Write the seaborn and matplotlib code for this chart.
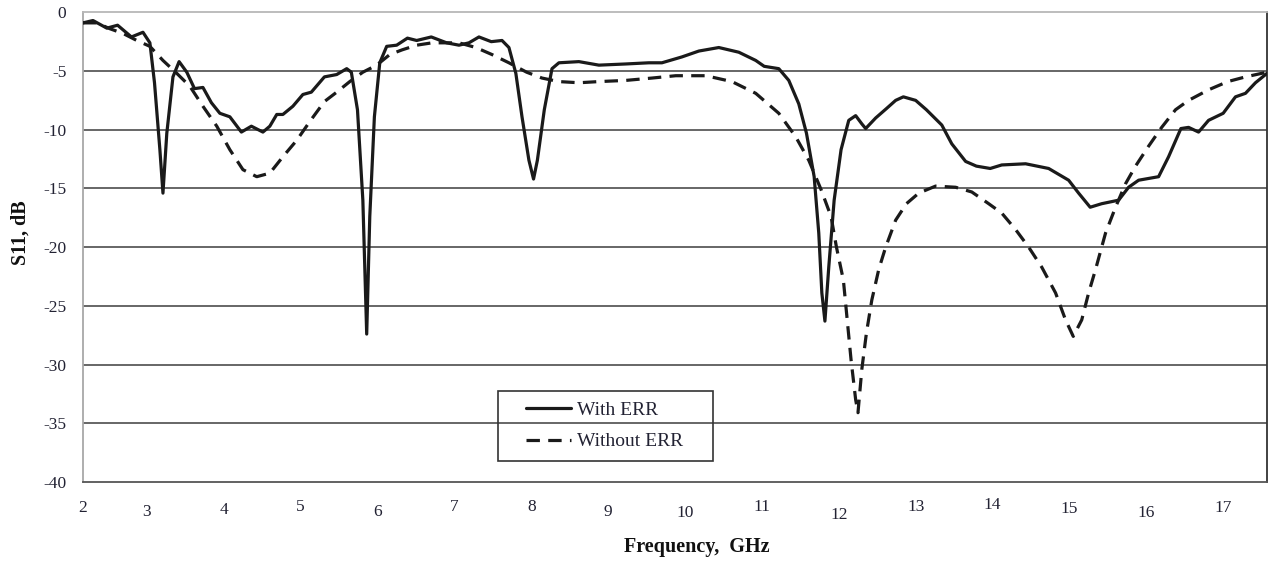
import numpy as np
import pandas as pd
import matplotlib
matplotlib.use("Agg")
import matplotlib.pyplot as plt
import matplotlib.transforms as mtransforms
from matplotlib.lines import Line2D
from matplotlib.legend_handler import HandlerLine2D
import seaborn as sns

# ---- data ----
freq_with = [2.17, 2.30, 2.48, 2.62, 2.80, 2.95, 3.04, 3.10, 3.17, 3.21, 3.26, 3.34,
             3.42, 3.52, 3.62, 3.73, 3.84, 3.95, 4.08, 4.23, 4.36, 4.51, 4.60, 4.69,
             4.77, 4.90, 5.03, 5.14, 5.31, 5.47, 5.60, 5.66, 5.74, 5.81, 5.86, 5.90,
             5.96, 6.03, 6.12, 6.25, 6.39, 6.51, 6.70, 6.90, 7.06, 7.19, 7.32, 7.48,
             7.62, 7.71, 7.80, 7.88, 7.97, 8.03, 8.08, 8.17, 8.27, 8.36, 8.62, 8.88,
             9.23, 9.53, 9.70, 9.96, 10.18, 10.44, 10.70, 10.92, 11.03, 11.22, 11.35,
             11.48, 11.58, 11.68, 11.74, 11.78, 11.82, 11.87, 11.94, 12.03, 12.13,
             12.22, 12.30, 12.35, 12.48, 12.62, 12.74, 12.84, 13.00, 13.14, 13.34,
             13.47, 13.65, 13.79, 13.97, 14.12, 14.43, 14.73, 14.99, 15.12, 15.27,
             15.42, 15.64, 15.77, 15.90, 16.16, 16.29, 16.45, 16.55, 16.68, 16.81,
             17.00, 17.16, 17.29, 17.42, 17.57]
s11_with = [-0.9, -0.7, -1.35, -1.1, -2.1, -1.7, -2.6, -6.0, -11.7, -15.4, -10.3, -5.5,
            -4.2, -5.1, -6.5, -6.4, -7.7, -8.6, -8.9, -10.2, -9.7, -10.2, -9.7, -8.7,
            -8.7, -8.0, -7.0, -6.8, -5.5, -5.3, -4.8, -5.1, -8.3, -16.0, -27.4, -17.4,
            -8.9, -4.3, -2.9, -2.8, -2.2, -2.4, -2.1, -2.6, -2.8, -2.6, -2.1, -2.5,
            -2.4, -3.0, -5.2, -8.9, -12.6, -14.2, -12.6, -8.3, -4.8, -4.3, -4.2, -4.5,
            -4.4, -4.3, -4.3, -3.8, -3.3, -3.0, -3.4, -4.1, -4.6, -4.8, -5.8,
            -7.8, -10.3, -14.0, -18.8, -23.9, -26.3, -21.7, -16.0, -11.7, -9.2,
            -8.8, -9.5, -9.9, -9.0, -8.2, -7.5, -7.2, -7.5, -8.3, -9.6,
            -11.2, -12.7, -13.1, -13.3, -13.0, -12.9, -13.3, -14.3, -15.4, -16.6,
            -16.3, -16.0, -14.9, -14.3, -14.0, -12.3, -9.9, -9.8, -10.2, -9.2,
            -8.6, -7.2, -6.9, -6.0, -5.2]

freq_without = [2.17, 2.35, 2.52, 2.69, 2.87, 3.04, 3.21, 3.39, 3.56, 3.73, 3.91, 4.08,
                4.25, 4.43, 4.60, 4.77, 4.95, 5.12, 5.31, 5.47, 5.64, 5.81, 5.99, 6.16,
                6.32, 6.51, 6.71, 7.06, 7.28, 7.49, 7.71, 7.94, 8.14, 8.36, 8.62, 8.88,
                9.23, 9.57, 9.88, 10.27, 10.61, 10.92, 11.22, 11.44, 11.61, 11.77, 11.90,
                11.97, 12.06, 12.16, 12.22, 12.25, 12.30, 12.36, 12.43, 12.52, 12.61,
                12.74, 12.88, 13.04, 13.26, 13.52, 13.73, 13.95, 14.12, 14.30, 14.47,
                14.64, 14.82, 14.95, 15.05, 15.16, 15.25, 15.34, 15.47, 15.60, 15.73,
                15.86, 16.03, 16.20, 16.38, 16.55, 16.81, 17.06, 17.29, 17.57]
s11_without = [-0.9, -0.9, -1.4, -1.8, -2.4, -2.9, -4.1, -5.2, -6.3, -8.0, -9.7, -11.7,
               -13.4, -14.0, -13.7, -12.3, -10.9, -9.3, -7.6, -6.8, -5.9, -5.1, -4.5, -3.6,
               -3.2, -2.8, -2.6, -2.6, -3.0, -3.6, -4.3, -5.1, -5.6, -5.9, -6.0, -5.9,
               -5.8, -5.6, -5.4, -5.4, -5.9, -6.9, -8.6, -10.6, -12.6, -15.1, -17.4,
               -20.0, -22.8, -29.6, -33.0, -34.1, -30.4, -27.3, -24.5, -21.9, -20.0,
               -17.7, -16.3, -15.4, -14.8, -14.9, -15.3, -16.3, -17.1, -18.5, -20.0,
               -21.7, -23.9, -26.2, -27.6, -26.2, -23.9, -21.9, -18.8, -16.6, -14.6,
               -13.1, -11.4, -9.8, -8.3, -7.5, -6.6, -5.9, -5.5, -5.1]

series_names = ["With ERR", "Without ERR"]
x_tick_pos = [2.17, 3, 4, 5, 6, 7, 8, 9, 10, 11, 12, 13, 14, 15, 16, 17]
x_tick_labels = ["2", "3", "4", "5", "6", "7", "8", "9", "10", "11", "12", "13",
                 "14", "15", "16", "17"]
y_ticks = [0, -5, -10, -15, -20, -25, -30, -35, -40]
# small vertical jitter of the x tick labels seen in the reference (points)
x_label_shift = [1, -2, -0.5, 1.5, -1.5, 2, 1.5, -2, -2.5, 1.5, -4, 1.5, 3, 0, -2.5, 1]

df = pd.concat([
    pd.DataFrame({"Frequency": freq_with, "S11": s11_with, "Series": series_names[0]}),
    pd.DataFrame({"Frequency": freq_without, "S11": s11_without, "Series": series_names[1]}),
], ignore_index=True)

sns.set_style("white")
plt.rcParams["font.family"] = ["Liberation Serif", "DejaVu Serif"]
plt.rcParams["lines.solid_joinstyle"] = "round"
plt.rcParams["lines.dash_joinstyle"] = "round"

fig = plt.figure(figsize=(12.70, 5.62), dpi=100)
ax = fig.add_axes([83 / 1270, 1 - 482 / 562, (1267 - 83) / 1270, (482 - 12.3) / 562])

for yv in y_ticks[1:-1]:
    ax.axhline(yv, color="#5a5a5a", lw=1.3, zorder=1)

sns.lineplot(data=df, x="Frequency", y="S11", hue="Series", style="Series",
             palette=["#1a1a1a", "#1a1a1a"],
             dashes={"With ERR": "", "Without ERR": (4.2, 2.6)},
             linewidth=2.3, sort=False, estimator=None, ax=ax, zorder=3)

ax.set_xlim(2.17, 17.57)
ax.set_ylim(-40, 0)
ax.set_xticks(x_tick_pos)
ax.set_xticklabels(x_tick_labels)
ax.set_yticks(y_ticks)
ax.set_yticklabels([str(v) for v in y_ticks])

ax.tick_params(axis="x", direction="out", length=5, width=1, color="#888888",
               labelsize=12.5, pad=9, labelcolor="#222233")
ax.tick_params(axis="y", direction="out", length=6, width=1, color="#999999",
               labelsize=12.5, pad=6, labelcolor="#222233")

for lab, dy in zip(ax.get_xticklabels(), x_label_shift):
    lab.set_transform(lab.get_transform() +
                      mtransforms.ScaledTranslation(0, dy / 72, fig.dpi_scale_trans))

ax.spines["left"].set_color("#a8a8a8")
ax.spines["top"].set_color("#b8b8b8")
ax.spines["bottom"].set_color("#555555")
ax.spines["right"].set_color("#333333")
for s in ax.spines.values():
    s.set_linewidth(1.3)

ax.set_xlabel("Frequency,  GHz", fontsize=14.5, fontweight="bold", color="#111111")
ax.set_ylabel("S11, dB", fontsize=14.5, fontweight="bold", color="#111111")
ax.xaxis.set_label_coords(0.5186, -0.118)
ax.yaxis.set_label_coords(-0.044, 0.53)

handles, labels = ax.get_legend_handles_labels()
leg = ax.legend(handles, labels, loc="lower left",
                bbox_to_anchor=(0.3505, 0.0447, (713 - 498) / 1184, 0.16),
                mode="expand", borderaxespad=0, frameon=True, fancybox=False,
                facecolor="none", edgecolor="#333333", fontsize=14,
                handlelength=3.2, handletextpad=0.3, labelspacing=0.7,
                borderpad=0.55,
                handler_map={Line2D: HandlerLine2D(xpad=0.9)})
leg.get_frame().set_linewidth(1.2)
leg.get_frame().set_alpha(None)
for t in leg.get_texts():
    t.set_color("#222233")

fig.savefig("out.png", dpi=100, facecolor="white")
